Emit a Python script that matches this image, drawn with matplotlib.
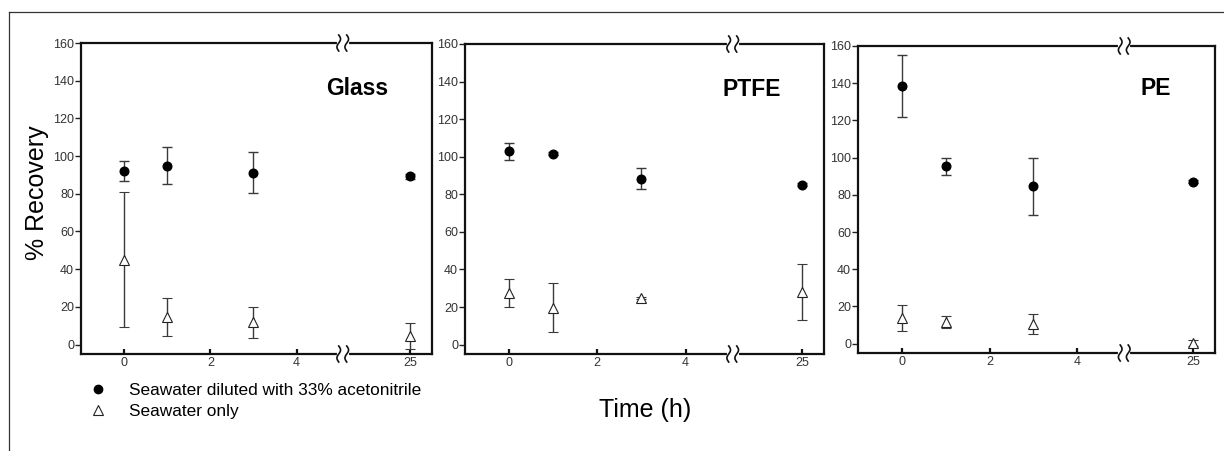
import numpy as np
import matplotlib
matplotlib.use("Agg")
import matplotlib.pyplot as plt
from matplotlib.lines import Line2D

plt.rcParams['font.family'] = ['Liberation Sans', 'DejaVu Sans']

# ---------------- data ----------------
times = [0, 1, 3, 25]
xticks = [0, 2, 4, 25]
xticklabels = ["0", "2", "4", "25"]
yticks = [0, 20, 40, 60, 80, 100, 120, 140, 160]
materials = ["Glass", "PTFE", "PE"]

glass_acn = [92.1, 94.9, 91.2, 89.3]
glass_acn_err = [5.3, 9.9, 10.9, 1.2]
glass_sw = [45.0, 14.6, 11.8, 4.4]
glass_sw_err = [35.7, 10.2, 8.2, 7.0]

ptfe_acn = [102.8, 101.6, 88.4, 85.2]
ptfe_acn_err = [4.5, 0.8, 5.5, 0.8]
ptfe_sw = [27.3, 19.7, 24.7, 27.9]
ptfe_sw_err = [7.5, 13.0, 0.5, 15.0]

pe_acn = [138.5, 95.3, 84.6, 87.1]
pe_acn_err = [16.7, 4.5, 15.3, 0.8]
pe_sw = [13.8, 11.8, 10.5, 0.4]
pe_sw_err = [6.8, 3.3, 5.3, 1.5]

legend_labels = ["Seawater diluted with 33% acetonitrile", "Seawater only"]

acn_series = [glass_acn, ptfe_acn, pe_acn]
acn_errs = [glass_acn_err, ptfe_acn_err, pe_acn_err]
sw_series = [glass_sw, ptfe_sw, pe_sw]
sw_errs = [glass_sw_err, ptfe_sw_err, pe_sw_err]

# ---------------- broken x scale ----------------
BLO, BHI = 5.07, 23.43
SHIFT = BHI - BLO


def fwd(t):
    t = np.asarray(t, dtype=float)
    return np.where(t <= BLO, t, np.where(t >= BHI, t - SHIFT, BLO))


def inv(u):
    u = np.asarray(u, dtype=float)
    return np.where(u <= BLO, u, u + SHIFT)


W, H = 1224, 451
fig = plt.figure(figsize=(W / 100, H / 100), dpi=100)

# outer frame (top and left)
fig.add_artist(Line2D([9 / W, 1.0], [1 - 12 / H, 1 - 12 / H], color="#333333", lw=0.9))
fig.add_artist(Line2D([9 / W, 9 / W], [1 - 12 / H, 0.0], color="#333333", lw=0.9))

boxes = [(81, 432, 43, 354), (465, 824, 44, 354), (858, 1215, 46, 353)]
label_pos = [(357, 89), (752, 90), (1156, 89)]

axes = []
for i, (l, r, t, b) in enumerate(boxes):
    ax = fig.add_axes([l / W, 1 - b / H, (r - l) / W, (b - t) / H])
    ax.set_xscale('function', functions=(fwd, inv))
    ax.set_xlim(-1.0, 25.5)
    ax.set_ylim(-5, 160)
    ax.errorbar(times, acn_series[i], yerr=acn_errs[i], fmt='o', color='black',
                ms=6.2, mfc='black', mec='black', ecolor='#3a3a3a', elinewidth=1.0,
                capsize=3.5, capthick=1.0, zorder=3)
    ax.errorbar(times, sw_series[i], yerr=sw_errs[i], fmt='^', color='black',
                ms=7.5, mfc='white', mec='#222222', mew=0.8, ecolor='#3a3a3a',
                elinewidth=1.0, capsize=3.5, capthick=1.0, zorder=3)
    ax.set_xticks(xticks)
    ax.set_xticklabels(xticklabels)
    ax.set_yticks(yticks)
    ax.tick_params(axis='y', direction='out', length=4, width=1.0, pad=1,
                   labelsize=9, labelcolor='#333333', color='#222222')
    ax.tick_params(axis='x', direction='in', length=3.5, width=1.6, pad=2.5,
                   labelsize=9, labelcolor='#333333', color='#111111')
    for s in ax.spines.values():
        s.set_linewidth(1.6)
        s.set_color('#111111')
    fig.text(label_pos[i][0] / W, 1 - label_pos[i][1] / H, materials[i],
             fontsize=16.5, fontweight='bold', ha='center', va='center')
    axes.append(ax)

# break marks
fig.canvas.draw()
for ax in axes:
    for yax in (0.0, 1.0):
        disp = ax.transData.transform((BLO, 0))
        cx = disp[0]
        cy = ax.transAxes.transform((0, yax))[1]
        s = np.linspace(-1, 1, 40)
        fig.add_artist(Line2D([(cx - 4) / W, (cx + 4) / W], [cy / H, cy / H],
                              color='white', lw=3, zorder=5))
        for off in (-4, 4):
            xs = cx + off + 1.8 * np.sin(np.pi * s)
            ys = cy + 8 * s
            fig.add_artist(Line2D(xs / W, ys / H, color='#111111', lw=1.2, zorder=6))

fig.text(37 / W, 1 - 193 / H, "% Recovery", rotation=90, fontsize=18,
         ha='center', va='center')
fig.text(645 / W, 1 - 410 / H, "Time (h)", fontsize=18, ha='center', va='center')

handles = [Line2D([], [], ls='none', marker='o', ms=6, mfc='black', mec='black'),
           Line2D([], [], ls='none', marker='^', ms=7, mfc='white', mec='#222222', mew=0.8)]
fig.legend(handles=handles, labels=legend_labels, loc='center left',
           bbox_to_anchor=(88 / W, 1 - 401 / H), frameon=False, fontsize=12.4,
           handlelength=1.2, handletextpad=1.2, labelspacing=0.35, borderpad=0,
           borderaxespad=0)

fig.savefig("out.png", dpi=100)
